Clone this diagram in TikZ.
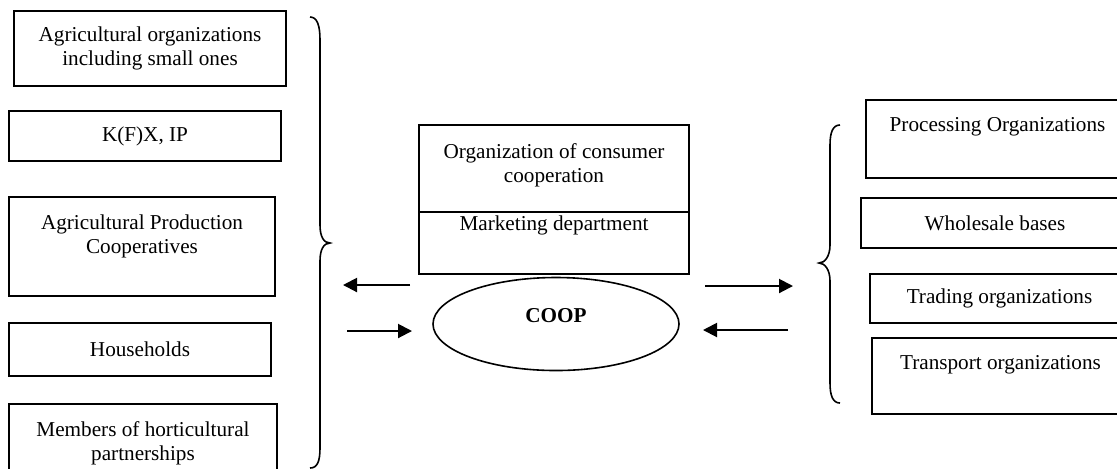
\documentclass[tikz,border=0pt]{standalone}
\usepackage{fontspec}
\setmainfont{Liberation Serif}
\usetikzlibrary{arrows.meta,shapes.geometric}
\tikzset{
  box/.style={draw, line width=1pt, inner sep=0pt, anchor=north west, align=center,
    font=\fontsize{10.6}{12}\selectfont},
  brace/.style={line width=0.8pt},
}
\begin{document}
\begin{tikzpicture}[x=0.5pt,y=-0.5pt]
  \useasboundingbox (0,0) rectangle (1117,468);
  \draw
    (13,10) node[box, minimum width=136pt, minimum height=37.5pt] (l1){Agricultural organizations\\including small ones}
    (8,110) node[box, minimum width=136pt, minimum height=25pt] (l2){K(F)X, IP}
    (8,196) node[box, minimum width=133pt, minimum height=49.5pt, text depth=12.75pt] (l3){Agricultural Production\\Cooperatives}
    (8,322) node[box, minimum width=131pt, minimum height=26.5pt] (l4){Households}
    (8,403) node[box, minimum width=134pt, minimum height=39pt] (l5){Members of horticultural\\partnerships};
  \draw
    (418,124) node[box, minimum width=135pt, minimum height=43.5pt, text depth=5.75pt] (org){Organization of consumer\\cooperation}
    (418,211) node[box, minimum width=135pt, minimum height=31pt, text height=9pt, text depth=22pt] (mkt){Marketing department}
    (556,324) node[draw, ellipse, line width=0.8pt, inner sep=0pt, minimum width=123pt, minimum height=46.5pt,
      text height=7pt, text depth=9pt, font=\fontsize{10.6}{12}\selectfont\bfseries] (coop){COOP};
  \draw
    (865,99) node[box, minimum width=131.5pt, minimum height=39pt, text height=15.5pt, text depth=23.5pt] (r1){Processing Organizations}
    (860,197) node[box, minimum width=134pt, minimum height=25pt] (r2){Wholesale bases}
    (869,273) node[box, minimum width=129.5pt, minimum height=24.5pt] (r3){Trading organizations}
    (871,337) node[box, minimum width=128.5pt, minimum height=38pt, text height=15.5pt, text depth=22.5pt] (r4){Transport organizations};
  \draw[brace] (310,17) .. controls (317,17) and (320,25) .. (320,40) -- (320,225)
    .. controls (320,237) and (324,243) .. (330,243) .. controls (324,243) and (320,249) .. (320,261)
    -- (320,448) .. controls (320,462) and (317,468) .. (310,468);
  \draw[brace] (840,125) .. controls (833,125) and (830,132) .. (830,145) -- (830,245)
    .. controls (830,256) and (825,263) .. (819,263) .. controls (825,263) and (830,270) .. (830,281)
    -- (830,383) .. controls (830,396) and (833,403) .. (840,403);
  \path
    (410,285) coordinate (a1) (343,285) coordinate (b1)
    (347,331) coordinate (a2) (412,331) coordinate (b2)
    (705,286) coordinate (a3) (793,286) coordinate (b3)
    (788,330) coordinate (a4) (703,330) coordinate (b4);
  \begin{scope}[-{Triangle[length=7pt,width=7pt]}, line width=1pt]
    \draw (a1) to (b1);
    \draw (a2) to (b2);
    \draw (a3) to (b3);
    \draw (a4) to (b4);
  \end{scope}
\end{tikzpicture}
\end{document}
